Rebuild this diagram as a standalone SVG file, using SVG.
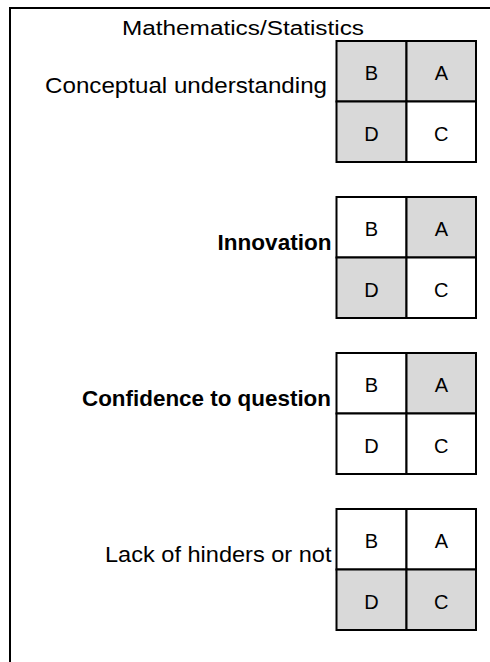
<svg xmlns="http://www.w3.org/2000/svg" width="490" height="662" viewBox="0 0 490 662">
<style>
.frame{fill:none;stroke:#000;stroke-width:2}
.cell{stroke:#000;stroke-width:2}
.g{fill:#d9d9d9}
.w{fill:#fff}
.lbl{font-family:"Liberation Sans",Arial,sans-serif;font-size:22px;fill:#000;text-anchor:end}
.b{font-weight:bold}
.ttl{font-family:"Liberation Sans",Arial,sans-serif;font-size:20px;fill:#000}
.ltr{font-family:"Liberation Sans",Arial,sans-serif;font-size:20px;fill:#000;text-anchor:middle}
</style>
<rect width="490" height="662" fill="#fff"/>
<rect class="frame" x="10" y="8" width="500" height="680"/>
<text class="ttl" x="122" y="35" textLength="242" lengthAdjust="spacingAndGlyphs">Mathematics/Statistics</text>

<g id="conceptual">
<text class="lbl" x="327" y="93" textLength="282" lengthAdjust="spacingAndGlyphs">Conceptual understanding</text>
<rect class="cell g" x="336.5" y="41" width="70" height="60.5"/>
<rect class="cell g" x="406.5" y="41" width="69.5" height="60.5"/>
<rect class="cell g" x="336.5" y="101.5" width="70" height="60.5"/>
<rect class="cell w" x="406.5" y="101.5" width="69.5" height="60.5"/>
<text class="ltr" x="371.5" y="80">B</text><text class="ltr" x="441.3" y="80">A</text>
<text class="ltr" x="371.5" y="140.5">D</text><text class="ltr" x="441.3" y="140.5">C</text>
</g>

<g id="innovation">
<text class="lbl b" x="331.5" y="250" textLength="114" lengthAdjust="spacingAndGlyphs">Innovation</text>
<rect class="cell w" x="336.5" y="197" width="70" height="60.5"/>
<rect class="cell g" x="406.5" y="197" width="69.5" height="60.5"/>
<rect class="cell g" x="336.5" y="257.5" width="70" height="60.5"/>
<rect class="cell w" x="406.5" y="257.5" width="69.5" height="60.5"/>
<text class="ltr" x="371.5" y="236">B</text><text class="ltr" x="441.3" y="236">A</text>
<text class="ltr" x="371.5" y="296.5">D</text><text class="ltr" x="441.3" y="296.5">C</text>
</g>

<g id="confidence">
<text class="lbl b" x="331" y="405.7" textLength="249" lengthAdjust="spacingAndGlyphs">Confidence to question</text>
<rect class="cell w" x="336.5" y="353" width="70" height="60.5"/>
<rect class="cell g" x="406.5" y="353" width="69.5" height="60.5"/>
<rect class="cell w" x="336.5" y="413.5" width="70" height="60.5"/>
<rect class="cell w" x="406.5" y="413.5" width="69.5" height="60.5"/>
<text class="ltr" x="371.5" y="392">B</text><text class="ltr" x="441.3" y="392">A</text>
<text class="ltr" x="371.5" y="452.5">D</text><text class="ltr" x="441.3" y="452.5">C</text>
</g>

<g id="lack">
<text class="lbl" x="331.5" y="561.7" textLength="226.5" lengthAdjust="spacingAndGlyphs">Lack of hinders or not</text>
<rect class="cell w" x="336.5" y="509" width="70" height="60.5"/>
<rect class="cell w" x="406.5" y="509" width="69.5" height="60.5"/>
<rect class="cell g" x="336.5" y="569.5" width="70" height="60.5"/>
<rect class="cell g" x="406.5" y="569.5" width="69.5" height="60.5"/>
<text class="ltr" x="371.5" y="548">B</text><text class="ltr" x="441.3" y="548">A</text>
<text class="ltr" x="371.5" y="608.5">D</text><text class="ltr" x="441.3" y="608.5">C</text>
</g>

<g id="connectors"></g>
</svg>
